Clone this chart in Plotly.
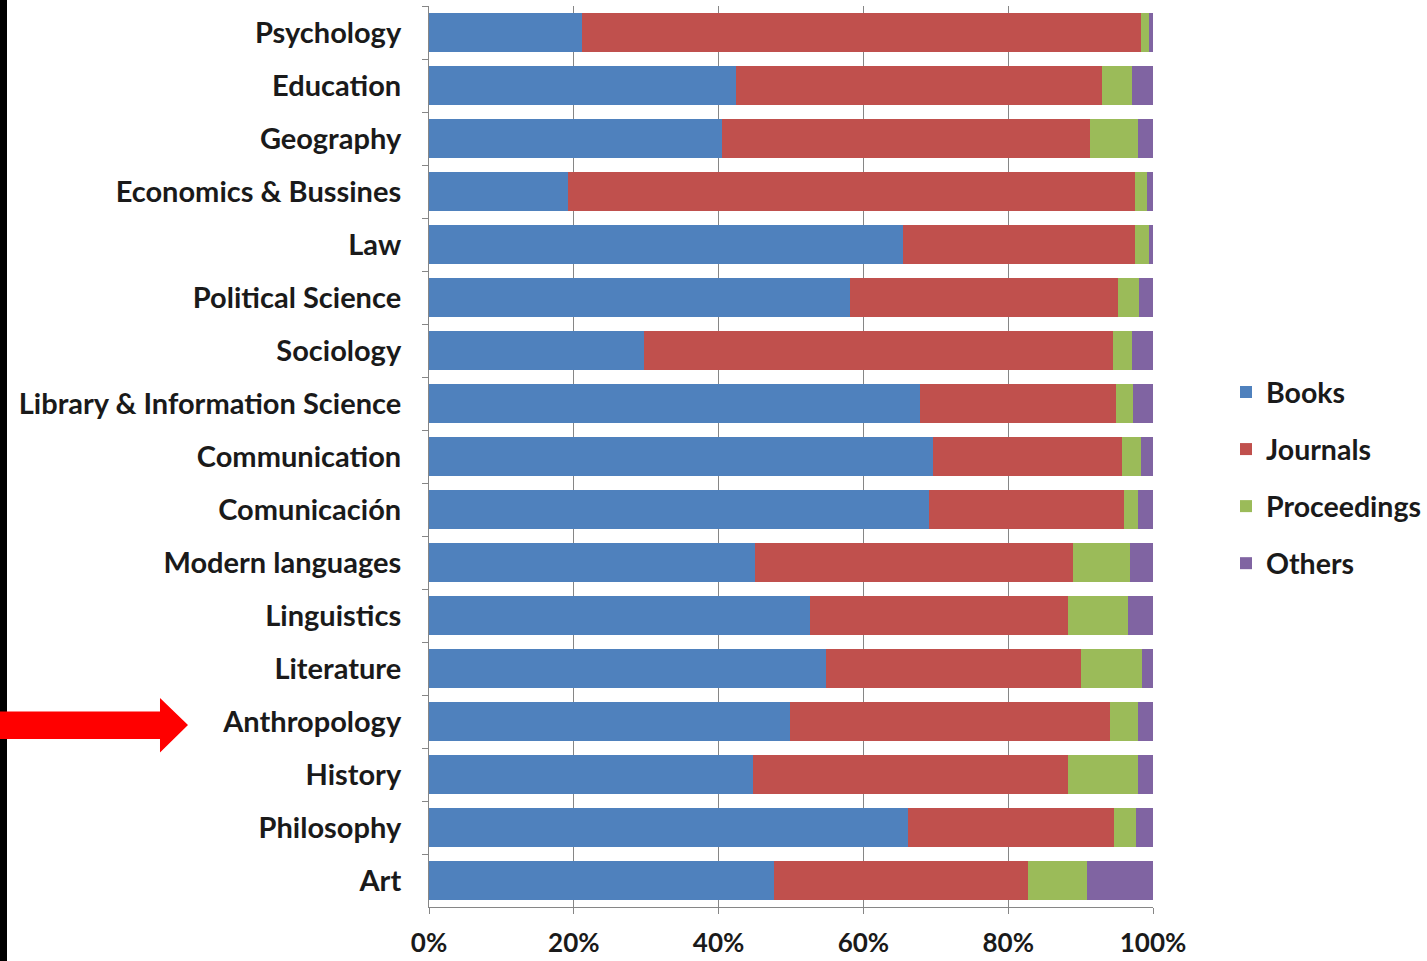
import plotly.graph_objects as go

categories = ["Psychology", "Education", "Geography", "Economics & Bussines", "Law",
              "Political Science", "Sociology", "Library & Information Science",
              "Communication", "Comunicación", "Modern languages", "Linguistics",
              "Literature", "Anthropology", "History", "Philosophy", "Art"]

books       = [21.1, 42.4, 40.4, 19.2, 65.4, 58.1, 29.7, 67.8, 69.6, 69.0, 45.0, 52.6, 54.9, 49.8, 44.8, 66.2, 47.6]
journals    = [77.2, 50.5, 50.9, 78.3, 32.1, 37.0, 64.8, 27.1, 26.1, 27.0, 43.9, 35.6, 35.1, 44.2, 43.4, 28.4, 35.2]
proceedings = [1.1, 4.2, 6.6, 1.7, 1.9, 3.0, 2.6, 2.4, 2.6, 1.9, 7.9, 8.3, 8.5, 3.9, 9.7, 3.1, 8.1]
others      = [0.6, 2.9, 2.1, 0.8, 0.6, 1.9, 2.9, 2.7, 1.7, 2.1, 3.2, 3.5, 1.5, 2.1, 2.1, 2.3, 9.1]

series_names = ["Books", "Journals", "Proceedings", "Others"]
series_values = [books, journals, proceedings, others]
colors = ["#4F81BD", "#C0504D", "#9BBB59", "#8064A2"]

W, H = 1427, 961
ML, MR, MT, MB = 429, 274, 6, 54
PW, PH = W - ML - MR, H - MT - MB

def px(x):
    return (x - ML) / PW

def py(y):
    return 1 - (y - MT) / PH

FONT = "Lato"
TXT = "#1a1a1a"

fig = go.Figure()
for name, vals, col in zip(series_names, series_values, colors):
    fig.add_trace(go.Bar(
        y=categories, x=[v / 100 for v in vals], name=name, orientation="h",
        marker=dict(color=col, line=dict(width=0)), legendgroup=name,
    ))

# decorations: black left border strip and red arrow
arrow_pts = [(0, 711.5), (160, 711.5), (160, 698), (188, 725), (160, 752.5), (160, 739), (0, 739)]
path = "M " + " L ".join(f"{px(x):.5f},{py(y):.5f}" for x, y in arrow_pts) + " Z"

fig.update_layout(
    width=W, height=H,
    margin=dict(l=ML, r=MR, t=MT, b=MB, autoexpand=False),
    barmode="stack", bargap=0.25,
    plot_bgcolor="white", paper_bgcolor="white",
    font=dict(family=FONT, color=TXT),
    xaxis=dict(range=[0, 1], tickformat=".0%", tickvals=[0, 0.2, 0.4, 0.6, 0.8, 1.0],
               showgrid=True, gridcolor="#868686", gridwidth=1,
               showline=True, linecolor="#868686", linewidth=1,
               ticks="outside", ticklen=6, tickcolor="#868686",
               tickfont=dict(family=FONT, size=26, weight="bold", color=TXT),
               ticklabelstandoff=7, zeroline=False, fixedrange=True),
    yaxis=dict(autorange="reversed", type="category",
               showline=True, linecolor="#868686", linewidth=1,
               ticks="outside", ticklen=6, tickcolor="#868686", tickson="boundaries",
               tickfont=dict(family=FONT, size=29, weight="bold", color=TXT),
               ticklabelstandoff=21, showgrid=False, fixedrange=True),
    legend=dict(x=px(1226), y=py(478), xanchor="left", yanchor="middle",
                traceorder="grouped", tracegroupgap=17,
                font=dict(family=FONT, size=28.5, weight="bold", color=TXT),
                bgcolor="rgba(0,0,0,0)"),
    shapes=[
        dict(type="rect", xref="paper", yref="paper", x0=px(0), x1=px(7), y0=py(961), y1=py(0),
             fillcolor="black", line=dict(width=0), layer="above"),
        dict(type="path", xref="paper", yref="paper", path=path,
             fillcolor="#FF0000", line=dict(width=0), layer="above"),
    ],
)

fig.write_html("out.html", config={"displayModeBar": False},
               post_script="document.body.style.margin='0px';")
